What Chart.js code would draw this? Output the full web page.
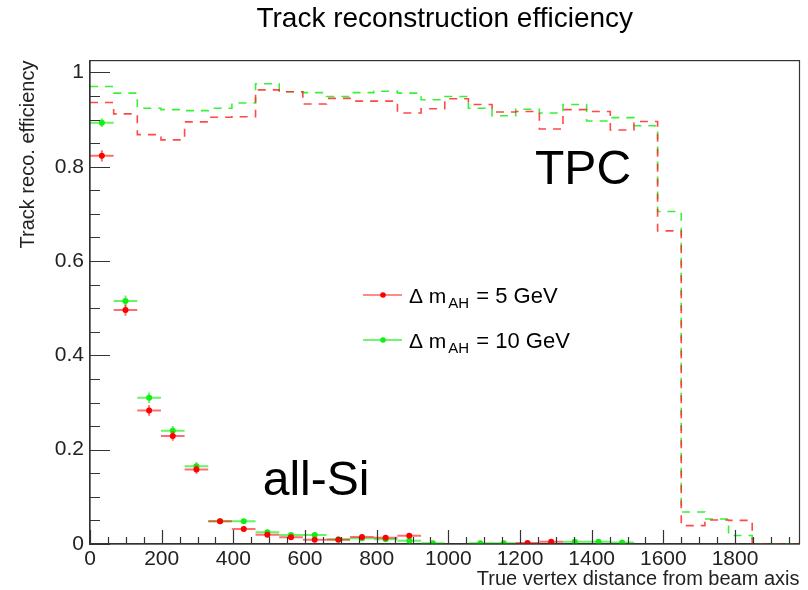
<!DOCTYPE html>
<html>
<head>
<meta charset="utf-8">
<title>Track reconstruction efficiency</title>
<script src="https://cdn.jsdelivr.net/npm/chart.js@4/dist/chart.umd.min.js"></script>
<style>
  html, body { margin: 0; padding: 0; background: #fff; }
  #wrap { width: 808px; height: 590px; }
</style>
</head>
<body>
<div id="wrap"><canvas id="eff"></canvas></div>
<script>
// histogram binning (true vertex distance from beam axis)
var binEdges = [0, 66, 132, 198, 264, 330, 396, 462, 528, 594, 660, 726, 792, 858, 924,
    990, 1056, 1122, 1188, 1254, 1320, 1386, 1452, 1518, 1584, 1650, 1716, 1782, 1848, 1914, 1980];

// TPC efficiency per bin (dashed histograms)
var tpc5GeV = [0.936, 0.912, 0.868, 0.857, 0.895, 0.905, 0.906, 0.963, 0.959, 0.933,
    0.945, 0.939, 0.939, 0.914, 0.923, 0.944, 0.932, 0.916, 0.917, 0.880,
    0.921, 0.917, 0.878, 0.896, 0.664, 0.039, 0.051, 0.050, 0, 0];
var tpc10GeV = [0.970, 0.956, 0.924, 0.921, 0.919, 0.924, 0.935, 0.976, 0.959, 0.957,
    0.949, 0.957, 0.960, 0.956, 0.942, 0.949, 0.924, 0.908, 0.922, 0.914,
    0.932, 0.897, 0.904, 0.887, 0.705, 0.068, 0.053, 0.018, 0, 0];

// all-Si efficiency per bin with errors (null = empty bin)
var si5GeV = [0.823, 0.496, 0.283, 0.229, 0.158, 0.048, 0.032, 0.0195, 0.0145, 0.009,
    0.009, 0.0150, 0.013, 0.0175, null, null, null, null, 0.002, 0.005,
    null, null, null, null, null, null, null, null, null, null];
var si5GeVErr = [0.012, 0.012, 0.011, 0.010, 0.009, 0.005, 0.004, 0.003, 0.003, 0.002,
    0.002, 0.003, 0.003, 0.003, 0, 0, 0, 0, 0.001, 0.002,
    0, 0, 0, 0, 0, 0, 0, 0, 0, 0];
var si10GeV = [0.893, 0.515, 0.310, 0.240, 0.165, 0.048, 0.048, 0.025, 0.019, 0.019,
    0.010, 0.012, 0.010, 0.007, 0.0015, null, 0.0015, 0.0015, null, null,
    0.005, 0.005, 0.003, null, null, null, null, null, null, null];
var si10GeVErr = [0.009, 0.012, 0.011, 0.010, 0.009, 0.005, 0.005, 0.003, 0.003, 0.003,
    0.002, 0.002, 0.002, 0.002, 0.001, 0, 0.001, 0.001, 0, 0,
    0.002, 0.002, 0.001, 0, 0, 0, 0, 0, 0, 0];

var xTicks = [0, 200, 400, 600, 800, 1000, 1200, 1400, 1600, 1800];
var yTicks = [0, 0.2, 0.4, 0.6, 0.8, 1];

var seriesNames = ['5 GeV', '10 GeV'];
var RED = '#ff0000';
var GREEN = '#11ee11';
var FONT = "'Liberation Sans', Arial, Helvetica, sans-serif";

// left bin edges plus the closing edge, drawn with stepped lines
function histPoints(values) {
    var pts = values.map(function (v, i) { return { x: binEdges[i], y: v }; });
    pts.push({ x: binEdges[values.length], y: values[values.length - 1] });
    return pts;
}

// bin centres with x/y errors, empty bins skipped
function errPoints(values, errs) {
    var pts = [];
    values.forEach(function (v, i) {
        if (v === null) return;
        var lo = binEdges[i], hi = binEdges[i + 1];
        pts.push({ x: (lo + hi) / 2, y: v, xlo: lo, xhi: hi, ey: errs[i] });
    });
    return pts;
}

// error bars drawn right before the markers of their own dataset
var errorBars = {
    id: 'errorBars',
    beforeDatasetDraw: function (chart, args) {
        var ds = chart.data.datasets[args.index];
        if (!ds.errorBars) return;
        var x = chart.scales.x, y = chart.scales.y, ctx = chart.ctx;
        ctx.save();
        ctx.strokeStyle = ds.barColor;
        ctx.lineWidth = 2;
        ds.data.forEach(function (p) {
            var py = y.getPixelForValue(p.y);
            var px = x.getPixelForValue(p.x);
            ctx.beginPath();
            ctx.moveTo(x.getPixelForValue(p.xlo), py);
            ctx.lineTo(x.getPixelForValue(p.xhi), py);
            if (p.ey > 0) {
                ctx.moveTo(px, y.getPixelForValue(p.y - p.ey));
                ctx.lineTo(px, y.getPixelForValue(p.y + p.ey));
            }
            ctx.stroke();
        });
        ctx.restore();
    }
};

// ROOT style frame, inward ticks, legend and detector labels
var rootFrame = {
    id: 'rootFrame',
    afterDraw: function (chart) {
        var ctx = chart.ctx, a = chart.chartArea;
        var x = chart.scales.x, y = chart.scales.y;
        ctx.save();
        ctx.strokeStyle = '#333';
        ctx.lineWidth = 1.2;
        ctx.strokeRect(a.left, a.top, a.right - a.left, a.bottom - a.top);

        // y ticks: major every 0.2, minor every 0.05
        ctx.beginPath();
        for (var v = 0; v <= y.max + 1e-9; v += 0.05) {
            var major = Math.abs(v / 0.2 - Math.round(v / 0.2)) < 1e-6;
            var py = Math.round(y.getPixelForValue(v)) + 0.5;
            ctx.moveTo(a.left, py);
            ctx.lineTo(a.left + (major ? 20 : 10), py);
        }
        // x ticks: major every 200, minor every 50
        for (var u = 0; u <= x.max; u += 50) {
            var px = Math.round(x.getPixelForValue(u)) + 0.5;
            ctx.moveTo(px, a.bottom);
            ctx.lineTo(px, a.bottom - (u % 200 === 0 ? 14 : 7));
        }
        ctx.stroke();

        // legend
        var colors = [RED, GREEN];
        var lineColors = ['rgba(255,60,60,0.8)', 'rgba(20,240,20,0.8)'];
        var rows = [295, 340];
        seriesNames.forEach(function (name, i) {
            var ly = rows[i];
            ctx.strokeStyle = lineColors[i];
            ctx.lineWidth = 1.5;
            ctx.beginPath();
            ctx.moveTo(363, ly);
            ctx.lineTo(402, ly);
            ctx.stroke();
            ctx.fillStyle = colors[i];
            ctx.beginPath();
            ctx.arc(383, ly, 2.8, 0, Math.PI * 2);
            ctx.fill();

            ctx.fillStyle = '#000';
            ctx.textBaseline = 'alphabetic';
            ctx.textAlign = 'left';
            ctx.font = '21px ' + FONT;
            var tx = 409, by = ly + 8;
            ctx.fillText('\u0394 m', tx, by);
            tx += ctx.measureText('\u0394 m').width + 2;
            ctx.font = '15px ' + FONT;
            ctx.fillText('AH', tx, by + 5);
            tx += ctx.measureText('AH').width + 1;
            ctx.font = '22px ' + FONT;
            ctx.fillText(' = ' + name, tx, by);
        });

        // detector labels
        ctx.fillStyle = '#000';
        ctx.font = '48px ' + FONT;
        ctx.fillText('TPC', x.getPixelForValue(1242), y.getPixelForValue(0.764));
        ctx.fillText('all-Si', x.getPixelForValue(482), y.getPixelForValue(0.104));
        ctx.restore();
    }
};

var chart = new Chart(document.getElementById('eff').getContext('2d'), {
    type: 'scatter',
    data: {
        datasets: [
            {
                label: 'all-Si 5 GeV',
                data: errPoints(si5GeV, si5GeVErr),
                errorBars: true,
                barColor: 'rgba(255,30,30,0.65)',
                backgroundColor: RED,
                borderWidth: 0,
                pointRadius: 3,
                showLine: false
            },
            {
                label: 'all-Si 10 GeV',
                data: errPoints(si10GeV, si10GeVErr),
                errorBars: true,
                barColor: 'rgba(20,240,20,0.65)',
                backgroundColor: GREEN,
                borderWidth: 0,
                pointRadius: 3,
                showLine: false
            },
            {
                label: 'TPC 5 GeV',
                type: 'line',
                data: histPoints(tpc5GeV),
                stepped: true,
                borderColor: 'rgba(255,40,40,0.85)',
                borderDash: [8, 7],
                borderWidth: 1.6,
                pointRadius: 0,
                fill: false
            },
            {
                label: 'TPC 10 GeV',
                type: 'line',
                data: histPoints(tpc10GeV),
                stepped: true,
                borderColor: 'rgba(20,240,20,0.85)',
                borderDash: [8, 7],
                borderWidth: 1.6,
                pointRadius: 0,
                fill: false
            }
        ]
    },
    options: {
        responsive: true,
        maintainAspectRatio: false,
        animation: false,
        events: [],
        layout: { padding: { left: 0, right: 8.5, top: 0, bottom: 0 } },
        plugins: {
            legend: { display: false },
            tooltip: { enabled: false },
            title: {
                display: true,
                fullSize: false,
                text: 'Track reconstruction efficiency',
                color: '#000',
                font: { family: FONT, size: 28, weight: 'normal' },
                padding: { top: 2, bottom: 25 }
            }
        },
        scales: {
            x: {
                type: 'linear',
                min: 0,
                max: 1980,
                afterFit: function (axis) { axis.height = 46; },
                afterBuildTicks: function (axis) {
                    axis.ticks = xTicks.map(function (v) { return { value: v }; });
                },
                ticks: {
                    autoSkip: false,
                    maxRotation: 0,
                    padding: 3,
                    color: '#222',
                    font: { family: FONT, size: 21 },
                    callback: function (v) { return String(v); }
                },
                grid: { display: false, drawTicks: false },
                border: { display: true, color: '#333', width: 1.2 },
                title: {
                    display: true,
                    text: 'True vertex distance from beam axis',
                    align: 'end',
                    color: '#222',
                    font: { family: FONT, size: 20, lineHeight: 1 },
                    padding: { top: 0, bottom: 1 }
                }
            },
            y: {
                type: 'linear',
                min: 0,
                max: 1.025,
                afterFit: function (axis) { axis.width = 90; },
                afterBuildTicks: function (axis) {
                    axis.ticks = yTicks.map(function (v) { return { value: v }; });
                },
                ticks: {
                    padding: 6,
                    color: '#222',
                    font: { family: FONT, size: 21 },
                    callback: function (v) { return String(Math.round(v * 10) / 10); }
                },
                grid: { display: false, drawTicks: false },
                border: { display: true, color: '#333', width: 1.2 },
                title: {
                    display: true,
                    text: 'Track reco. efficiency',
                    align: 'end',
                    color: '#222',
                    font: { family: FONT, size: 20 },
                    padding: { top: 16 }
                }
            }
        }
    },
    plugins: [errorBars, rootFrame]
});
</script>
</body>
</html>
